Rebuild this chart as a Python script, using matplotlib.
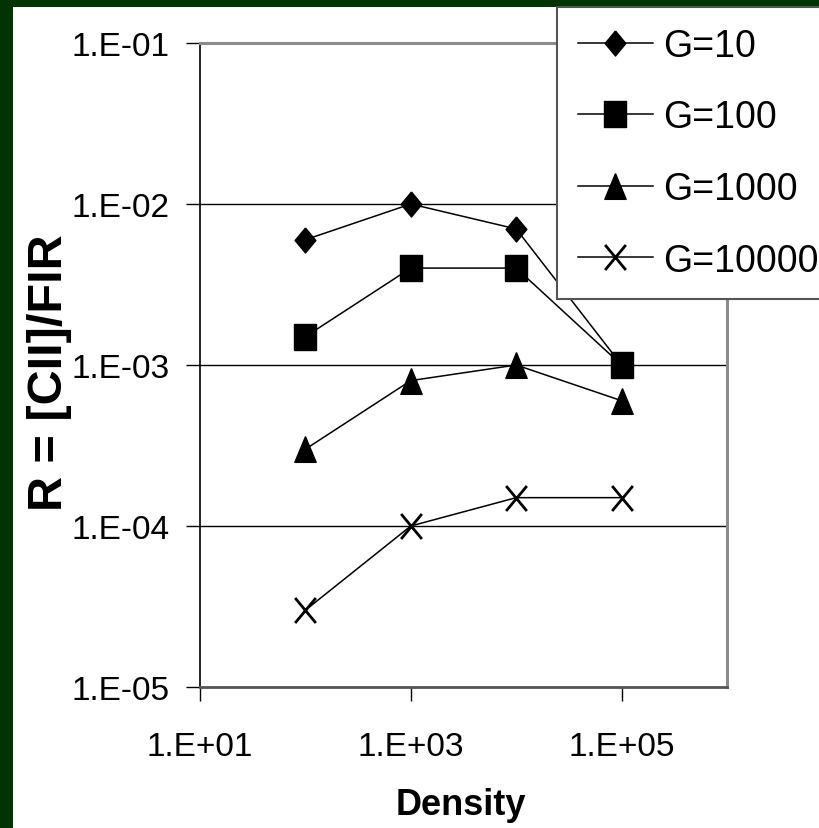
import numpy as np
import matplotlib
matplotlib.use('Agg')
from matplotlib import pyplot as plt
from matplotlib.patches import Rectangle
from matplotlib.path import Path
from matplotlib.ticker import FixedLocator, FixedFormatter, NullLocator

plt.rcParams['font.family'] = ['Liberation Sans', 'DejaVu Sans']

# data
density = [1e2, 1e3, 1e4, 1e5]
g10 = [6e-3, 1e-2, 7e-3, 1e-3]
g100 = [1.5e-3, 4e-3, 4e-3, 1e-3]
g1000 = [3e-4, 8e-4, 1e-3, 6e-4]
g10000 = [3e-5, 1e-4, 1.5e-4, 1.5e-4]
labels = ['G=10', 'G=100', 'G=1000', 'G=10000']

xticks = [1e1, 1e3, 1e5]
xtick_labels = ['1.E+01', '1.E+03', '1.E+05']
yticks = [1e-5, 1e-4, 1e-3, 1e-2, 1e-1]
ytick_labels = ['1.E-05', '1.E-04', '1.E-03', '1.E-02', '1.E-01']

# the original picture is a little squeezed sideways, so the markers are too
sq = 0.83
m_diamond = Path([(0, 0.5), (0.5 * sq, 0), (0, -0.5), (-0.5 * sq, 0), (0, 0.5)])
m_square = Path([(-0.5 * sq, -0.5), (0.5 * sq, -0.5), (0.5 * sq, 0.5), (-0.5 * sq, 0.5), (-0.5 * sq, -0.5)])
m_tri = Path([(0, 0.5), (0.5 * sq, -0.5), (-0.5 * sq, -0.5), (0, 0.5)])
m_cross = Path([(-0.45 * sq, -0.45), (0.45 * sq, 0.45), (-0.45 * sq, 0.45), (0.45 * sq, -0.45)],
               [Path.MOVETO, Path.LINETO, Path.MOVETO, Path.LINETO])

W, H = 819, 829
fig = plt.figure(figsize=(W / 100, H / 100), dpi=100, facecolor='#023305')
# white slide panel
fig.patches.append(Rectangle((13 / W, 0), 1, 1 - 8 / H, transform=fig.transFigure,
                             facecolor='white', edgecolor='none', zorder=-5))

ax = fig.add_axes([200 / W, 1 - 688 / H, (727 - 200) / W, (688 - 44) / H])
ax.set_xscale('log')
ax.set_yscale('log')
ax.set_xlim(1e1, 1e6)
ax.set_ylim(1e-5, 1e-1)

for yv in yticks[1:-1]:
    ax.axhline(yv, color='black', lw=1.0, zorder=1)

kw = dict(color='black', lw=1.1, zorder=3)
l1, = ax.plot(density, g10, marker=m_diamond, ms=18, **kw)
l2, = ax.plot(density, g100, marker=m_square, ms=18.5, **kw)
l3, = ax.plot(density, g1000, marker=m_tri, ms=18.5, **kw)
l4, = ax.plot(density, g10000, marker=m_cross, ms=18, mew=2, **kw)

ax.xaxis.set_major_locator(FixedLocator(xticks))
ax.xaxis.set_major_formatter(FixedFormatter(xtick_labels))
ax.xaxis.set_minor_locator(NullLocator())
ax.yaxis.set_major_locator(FixedLocator(yticks))
ax.yaxis.set_major_formatter(FixedFormatter(ytick_labels))
ax.yaxis.set_minor_locator(NullLocator())
ax.tick_params(axis='x', direction='out', length=10, width=1, pad=22, labelsize=24)
ax.tick_params(axis='y', direction='out', length=10, width=1, pad=12, labelsize=24)

ax.spines['left'].set_color('black')
ax.spines['left'].set_linewidth(1.2)
ax.spines['bottom'].set_color('#555555')
ax.spines['bottom'].set_linewidth(2)
for s in ['top', 'right']:
    ax.spines[s].set_color('#8c8c8c')
    ax.spines[s].set_linewidth(2.2)

ax.set_xlabel('Density', fontsize=26, fontweight='bold', va='center')
ax.xaxis.set_label_coords(0.495, -0.183)
ax.set_ylabel('R = [CII]/FIR', fontsize=35, fontweight='bold', va='center')
ax.yaxis.set_label_coords(-0.285, 0.49)

leg = fig.legend([l1, l2, l3, l4], labels, loc='upper left',
                 bbox_to_anchor=(557 / W, 1 - 8 / H), bbox_transform=fig.transFigure,
                 fontsize=27, handlelength=2.0, handletextpad=0.27,
                 labelspacing=0.95, borderpad=0.55, borderaxespad=0, fancybox=False,
                 framealpha=1, edgecolor='#555555')
leg.get_frame().set_linewidth(1.5)

fig.savefig('out.png', dpi=100, facecolor=fig.get_facecolor())
